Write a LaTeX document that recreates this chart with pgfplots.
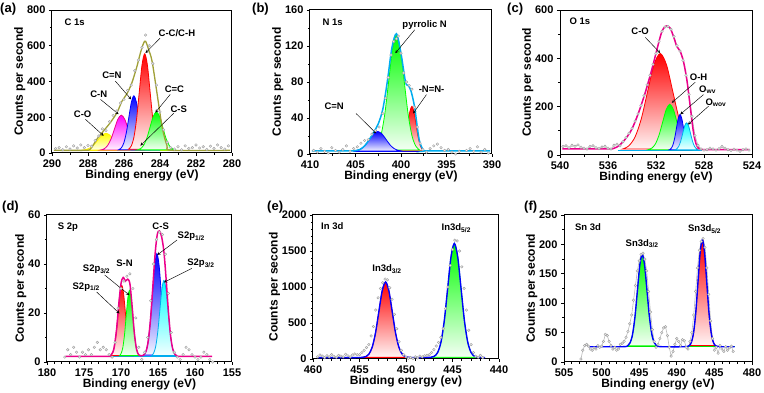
\documentclass[border=0pt]{standalone}
\usepackage{pgfplots}
\pgfplotsset{compat=1.18}
\usepackage{fontspec}
\setmainfont{Liberation Sans}
\definecolor{olivel}{RGB}{160,160,55}
\definecolor{bgreen}{RGB}{0,230,0}
\tikzset{
  ann/.style={font=\fontsize{9.5}{10}\selectfont\bfseries},
  arr/.style={-stealth, line width=0.45pt},
}
\pgfplotsset{
  xps/.style={scale only axis, x dir=reverse, tick align=outside, tick pos=left,
    axis line style={line width=1pt}, major tick length=3pt, minor tick length=1.8pt,
    every tick/.style={black, line width=0.8pt},
    ticklabel style={font=\fontsize{11}{12}\selectfont\bfseries},
    /pgf/number format/assume math mode=true, /pgf/number format/1000 sep={},
    xlabel={Binding energy (eV)}, ylabel={Counts per second},
    label style={font=\fontsize{12}{13}\selectfont\bfseries},
    xlabel style={yshift=4pt}, ylabel style={yshift=-5pt},
    anchor=south west},
  sc/.style={only marks, mark=*, mark size=1.3pt, mark options={fill=gray!15, draw=gray!75, line width=0.4pt}},
  scl/.style={gray!55, line width=0.6pt, mark=*, mark size=1.3pt, mark options={fill=gray!15, draw=gray!75, line width=0.4pt}},
  gf/.style={smooth, draw=#1, line width=0.8pt, top color=#1, bottom color=#1!4},
}
\begin{document}
\begin{tikzpicture}
\path[use as bounding box] (0pt,0pt) rectangle (764pt,393pt);
% ---------------- (a) ----------------
\begin{axis}[xps, at={(52pt,240pt)}, width=180pt, height=143pt,
  xmin=280, xmax=290, ymin=0, ymax=800, xtick={280,282,...,290}, ytick={0,200,...,800},
  minor x tick num=1, minor y tick num=1]
\addplot[sc] coordinates {(289.8,25)(289.6,30)(289.4,18)(289.2,35)(289.0,22)(288.8,40)(288.6,28)(288.4,45)(288.2,30)(288.0,42)(287.8,38)(287.6,70)(287.4,95)(287.2,135)(287.0,125)(286.8,175)(286.6,210)(286.4,235)(286.2,280)(286.0,300)(285.8,350)(285.6,380)(285.4,460)(285.2,520)(285.0,590)(284.8,660)(284.6,600)(284.4,500)(284.2,380)(284.0,230)(283.8,130)(283.6,60)(283.4,30)(283.2,22)(283.0,35)(282.8,18)(282.6,40)(282.4,25)(282.2,30)(282.0,45)(281.8,28)(281.6,35)(281.4,20)(281.2,38)(281.0,25)(280.8,45)(280.6,30)(280.4,22)(280.2,40)};
\addplot[yellow!95!black, line width=1pt] coordinates {(288.4,15)(283.2,15)};
\addplot[gf=cyan] coordinates {(286.4,15.8)(286.2,18.1)(286.0,24.5)(285.8,37.7)(285.6,57.5)(285.4,76.8)(285.2,85)(285.0,76.8)(284.8,57.5)(284.6,37.7)(284.4,24.5)(284.2,18.1)(284.0,15.8)} -- cycle;
\addplot[gf=yellow] coordinates {(288.35,16.1)(288.125,19.2)(287.9,27.9)(287.675,45.8)(287.45,72.6)(287.225,98.8)(287.0,110)(286.775,98.8)(286.55,72.6)(286.325,45.8)(286.1,27.9)(285.875,19.2)(285.65,16.1)} -- cycle;
\addplot[gf=magenta] coordinates {(287.29,17.2)(287.1,23.6)(286.91,41.7)(286.72,79)(286.53,134.5)(286.34,188.9)(286.15,212)(285.96,188.9)(285.77,134.5)(285.58,79)(285.39,41.7)(285.2,23.6)(285.01,17.2)} -- cycle;
\addplot[gf=blue] coordinates {(286.29,18.4)(286.15,28.4)(286.01,56.3)(285.87,114)(285.73,200)(285.59,284.2)(285.45,320)(285.31,284.2)(285.17,200)(285.03,114)(284.89,56.3)(284.75,28.4)(284.61,18.4)} -- cycle;
\addplot[gf=red] coordinates {(285.75,21)(285.6,38.7)(285.45,88.1)(285.3,190.3)(285.15,342.5)(285.0,491.6)(284.85,555)(284.7,491.6)(284.55,342.5)(284.4,190.3)(284.25,88.1)(284.1,38.7)(283.95,21)} -- cycle;
\addplot[gf=green] coordinates {(285.25,17.4)(285.075,24.4)(284.9,44.1)(284.725,84.8)(284.55,145.4)(284.375,204.7)(284.2,230)(284.025,204.7)(283.85,145.4)(283.675,84.8)(283.5,44.1)(283.325,24.4)(283.15,17.4)} -- cycle;
\addplot[olivel, line width=1.3pt, smooth] coordinates {(289.9,15)(288.2,15)(287.87,22)(287.5,78)(287.13,124)(286.76,170)(286.39,226)(286.11,290)(285.83,333)(285.56,393)(285.28,485)(285.09,559)(284.91,615)(284.8,625)(284.63,578)(284.44,513)(284.17,337)(283.89,152)(283.61,41)(283.33,15)(280.1,15)};
\node[ann, anchor=west] at (axis cs:289.5,730) {C 1s};
\node[ann] at (axis cs:283.06,670) {C-C/C-H};
\draw[arr] (axis cs:284.0,642) -- (axis cs:284.81,559);
\node[ann] at (axis cs:286.67,433) {C=N};
\draw[arr] (axis cs:286.48,402) -- (axis cs:285.6,300);
\node[ann] at (axis cs:287.4,331) {C-N};
\draw[arr] (axis cs:287.31,300) -- (axis cs:286.3,217);
\node[ann] at (axis cs:288.3,217) {C-O};
\draw[arr] (axis cs:288.15,189) -- (axis cs:287.13,96);
\node[ann] at (axis cs:283.2,356) {C=C};
\draw[arr] (axis cs:283.43,328) -- (axis cs:284.26,226);
\node[ann] at (axis cs:282.96,244) {C-S};
\draw[arr] (axis cs:283.24,222) -- (axis cs:285.09,41);
\end{axis}
% ---------------- (b) ----------------
\begin{axis}[xps, at={(310pt,239pt)}, width=182pt, height=144pt,
  xmin=390, xmax=410, ymin=0, ymax=160, xtick={390,395,...,410}, ytick={0,40,...,160},
  minor x tick num=1, minor y tick num=1]
\addplot[sc] coordinates {(409.6,4)(409.2,2)(408.8,6)(408.4,3)(408.0,1)(407.6,7)(407.2,4)(406.8,2)(406.4,5)(406.0,9)(405.6,3)(405.2,6)(404.8,8)(404.4,12)(404.0,15)(403.6,16)(403.2,22)(402.8,26)(402.4,30)(402.0,45)(401.7,62)(401.4,85)(401.1,110)(400.8,125)(400.5,128)(400.3,131)(400.0,112)(399.7,90)(399.4,80)(399.1,76)(398.8,72)(398.5,52)(398.2,30)(397.9,12)(397.6,5)(397.2,2)(396.8,6)(396.4,9)(396.0,11)(395.6,7)(395.2,4)(394.8,5)(394.4,2)(394.0,0)(393.6,3)(393.2,-1)(392.8,4)(392.4,6)(392.0,3)(391.6,8)(391.2,2)(390.8,5)(390.4,1)};
\addplot[blue, line width=1.2pt] coordinates {(405.2,3)(397.5,3)};
\addplot[gf=red] coordinates {(400.15,3.6)(399.925,5.2)(399.7,9.8)(399.475,19.2)(399.25,33.3)(399.025,47.1)(398.8,53)(398.575,47.1)(398.35,33.3)(398.125,19.2)(397.9,9.8)(397.675,5.2)(397.45,3.6)} -- cycle;
\addplot[gf=green] coordinates {(403.05,4.4)(402.625,8.7)(402.2,20.5)(401.775,44.9)(401.35,81.2)(400.925,116.8)(400.5,132)(400.075,116.8)(399.65,81.2)(399.225,44.9)(398.8,20.5)(398.375,8.7)(397.95,4.4)} -- cycle;
\addplot[gf=blue] coordinates {(405.25,3.2)(404.8,4)(404.35,6)(403.9,10.1)(403.45,16.3)(403.0,22.4)(402.55,25)(402.1,22.4)(401.65,16.3)(401.2,10.1)(400.75,6)(400.3,4)(399.85,3.2)} -- cycle;
\addplot[cyan, line width=1.5pt, smooth] coordinates {(409.8,3.5)(405.5,3.5)(405,3.8)(404.5,5.1)(404,9)(403.5,15.8)(403,24.1)(402.5,33.5)(402,49.7)(401.5,80.7)(401,117.9)(400.5,133.6)(400,111.7)(399.5,80)(399.2,76)(398.9,70)(398.5,51.8)(398,15.8)(397.5,3.9)(397,3.5)(390.2,3.5)};
\node[ann, anchor=west] at (axis cs:409,146) {N 1s};
\node[ann] at (axis cs:397.4,143) {pyrrolic N};
\draw[arr] (axis cs:398.49,138) -- (axis cs:400.63,112);
\node[ann] at (axis cs:396.64,72) {-N=N-};
\draw[arr] (axis cs:397.2,66) -- (axis cs:398.67,45);
\node[ann] at (axis cs:407.34,52.6) {C=N};
\draw[arr] (axis cs:404.94,45) -- (axis cs:402.73,23);
\end{axis}
% ---------------- (c) ----------------
\begin{axis}[xps, at={(560pt,238pt)}, width=192pt, height=145pt,
  xmin=524, xmax=540, ymin=0, ymax=600, xtick={524,528,...,540}, ytick={0,200,...,600},
  minor x tick num=1, minor y tick num=1]
\addplot[scl] coordinates {(539.75,35)(539.5,38)(539.25,30)(539.0,40)(538.75,36)(538.5,42)(538.25,32)(538.0,28)(537.75,25)(537.5,35)(537.25,38)(537.0,30)(536.75,27)(536.5,33)(536.25,36)(536.0,28)(535.75,25)(535.5,40)(535.25,45)(535.0,38)(534.75,55)(534.5,72)(534.25,90)(534.0,110)(533.75,140)(533.5,170)(533.25,205)(533.0,245)(532.75,290)(532.5,330)(532.25,375)(532.0,420)(531.75,470)(531.5,512)(531.25,530)(531.0,532)(530.75,520)(530.5,490)(530.25,452)(530.0,430)(529.75,392)(529.5,330)(529.25,250)(529.0,160)(528.75,80)(528.5,40)(528.25,25)(528.0,20)(527.75,22)(527.5,28)(527.25,25)(527.0,20)(526.75,26)(526.5,35)(526.25,28)(526.0,22)(525.75,18)(525.5,24)(525.25,20)(525.0,15)(524.75,22)(524.5,25)(524.25,20)};
\addplot[cyan, line width=1.2pt] coordinates {(535.2,20)(528.2,20)};
\addplot[gf=red] coordinates {(534.8,24.4)(534.275,37.6)(533.75,74.1)(533.225,149.9)(532.7,262.6)(532.175,373)(531.65,420)(531.125,373)(530.6,262.6)(530.075,149.9)(529.55,74.1)(529.025,37.6)(528.5,24.4)} -- cycle;
\addplot[gf=green] coordinates {(532.65,22.1)(532.35,28.3)(532.05,45.7)(531.75,81.7)(531.45,135.2)(531.15,187.7)(530.85,210)(530.55,187.7)(530.25,135.2)(529.95,81.7)(529.65,45.7)(529.35,28.3)(529.05,22.1)} -- cycle;
\addplot[gf=blue] coordinates {(530.9,21.6)(530.75,26.5)(530.6,40)(530.45,68.1)(530.3,109.8)(530.15,150.6)(530.0,168)(529.85,150.6)(529.7,109.8)(529.55,68.1)(529.4,40)(529.25,26.5)(529.1,21.6)} -- cycle;
\addplot[gf=cyan] coordinates {(530.44,21.3)(530.275,25)(530.11,35.3)(529.945,56.7)(529.78,88.5)(529.615,119.7)(529.45,133)(529.285,119.7)(529.12,88.5)(528.955,56.7)(528.79,35.3)(528.625,25)(528.46,21.3)} -- cycle;
\addplot[magenta, line width=1.5pt, smooth] coordinates {(539.8,25)(536,25)(535.5,28)(535.13,37)(534.57,65)(534.02,106)(533.46,174)(532.9,257)(532.35,353)(531.93,435)(531.51,511)(531.15,534)(530.82,525)(530.54,490)(530.26,449)(529.98,429)(529.71,387)(529.43,312)(529.15,202)(528.87,92)(528.59,37)(528.17,23)(527,22)(524.2,22)};
\node[ann, anchor=west] at (axis cs:539.5,555) {O 1s};
\node[ann] at (axis cs:533.32,511) {C-O};
\draw[arr] (axis cs:532.9,487) -- (axis cs:531.65,422);
\node[ann] at (axis cs:528.45,323) {O-H};
\draw[arr] (axis cs:528.73,301) -- (axis cs:530.68,216);
\node[ann] at (axis cs:527.7,270) {O\textsubscript{wv}};
\draw[arr] (axis cs:528.04,250) -- (axis cs:529.98,168);
\node[ann] at (axis cs:527.0,218) {O\textsubscript{wov}};
\draw[arr] (axis cs:527.62,202) -- (axis cs:529.34,126);
\end{axis}
% ---------------- (d) ----------------
\begin{axis}[xps, at={(47pt,31pt)}, width=185pt, height=147pt,
  xmin=155, xmax=180, ymin=0, ymax=60, xtick={155,160,...,180}, ytick={0,20,40,60},
  minor x tick num=4, minor y tick num=1]
\addplot[sc] coordinates {(177.6,2)(177.2,5)(176.8,3)(176.4,6)(176.0,4)(175.6,2)(175.2,4)(174.8,3)(174.4,5)(174.0,3)(173.6,6)(173.2,8)(172.8,5)(172.4,6)(172.0,5)(171.6,3)(171.2,2)(170.8,8)(170.4,22)(170.0,30)(169.6,33)(169.2,35)(168.8,36)(168.4,30)(168.0,18)(167.6,6)(167.2,1)(166.8,4)(166.4,10)(166.0,25)(165.6,40)(165.2,50)(164.8,53)(164.4,52)(164.0,44)(163.6,28)(163.2,12)(162.8,4)(162.4,2)(162.0,1)(161.6,3)(161.2,6)(160.8,5)(160.4,3)(160.0,2)(159.6,1)(159.2,2)(158.8,4)(158.4,3)(158.0,1)(157.6,0)};
\addplot[cyan, line width=1.2pt] coordinates {(171.3,2.3)(161.9,2.3)};
\addplot[gf=red] coordinates {(171.4,2.6)(171.15,3.6)(170.9,6.2)(170.65,11.7)(170.4,19.9)(170.15,27.9)(169.9,31.3)(169.65,27.9)(169.4,19.9)(169.15,11.7)(168.9,6.2)(168.65,3.6)(168.4,2.6)} -- cycle;
\addplot[gf=green] coordinates {(170.2,2.6)(169.975,3.5)(169.75,5.95)(169.525,11.1)(169.3,18.7)(169.075,26.1)(168.85,29.3)(168.625,26.1)(168.4,18.7)(168.175,11.1)(167.95,5.95)(167.725,3.5)(167.5,2.6)} -- cycle;
\addplot[gf=blue] coordinates {(166.95,2.8)(166.65,4.1)(166.35,8.0)(166.05,15.9)(165.75,27.8)(165.45,39.4)(165.15,44.3)(164.85,39.4)(164.55,27.8)(164.25,15.9)(163.95,8.0)(163.65,4.1)(163.35,2.8)} -- cycle;
\addplot[gf=cyan] coordinates {(165.85,2.6)(165.575,3.7)(165.3,6.5)(165.025,12.4)(164.75,21.1)(164.475,29.7)(164.2,33.3)(163.925,29.7)(163.65,21.1)(163.375,12.4)(163.1,6.5)(162.825,3.7)(162.55,2.6)} -- cycle;
\addplot[magenta, line width=1.5pt, smooth] coordinates {(177.5,2.3)(172,2.3)(171.5,2.5)(171,4.9)(170.6,13.2)(170.3,23.5)(170,32)(169.7,34.5)(169.4,33)(169.1,33.8)(168.8,32)(168.5,22.8)(168.2,11.9)(167.9,5.2)(167.6,2.9)(167.3,2.5)(167,2.7)(166.6,4.5)(166.3,9)(166,17.9)(165.7,30.6)(165.4,43.7)(165.1,52)(164.8,53.5)(164.5,51)(164.2,45)(163.9,33.8)(163.6,20.9)(163.3,10.7)(163,5.2)(162.7,3.1)(162.4,2.4)(162,2.3)(157.7,2.3)};
\node[ann, anchor=west] at (axis cs:179,55) {S 2p};
\node[ann] at (axis cs:164.64,55.3) {C-S};
\node[ann] at (axis cs:160.5,51.2) {S2p\textsubscript{1/2}};
\draw[arr] (axis cs:162.42,49.8) -- (axis cs:165.09,43.7);
\node[ann] at (axis cs:159.2,40.2) {S2p\textsubscript{3/2}};
\draw[arr] (axis cs:160.42,38.2) -- (axis cs:164.2,32.5);
\node[ann] at (axis cs:169.53,40.2) {S-N};
\node[ann] at (axis cs:173.3,37.9) {S2p\textsubscript{3/2}};
\draw[arr] (axis cs:172.2,35.5) -- (axis cs:168.87,27.3);
\node[ann] at (axis cs:174.7,30.7) {S2p\textsubscript{1/2}};
\draw[arr] (axis cs:173.3,28.6) -- (axis cs:170.2,19.8);
\end{axis}
% ---------------- (e) ----------------
\begin{axis}[xps, at={(313pt,34pt)}, width=186pt, height=144pt, xlabel={Binding energy (ev)},
  xmin=440, xmax=460, ymin=0, ymax=2000, xtick={440,445,...,460}, ytick={0,500,...,2000},
  minor x tick num=4, minor y tick num=4]
\addplot[sc] coordinates {(459.5,30)(459.25,55)(459.0,40)(458.75,20)(458.5,45)(458.25,30)(458.0,60)(457.75,35)(457.5,25)(457.25,50)(457.0,40)(456.75,30)(456.5,65)(456.25,45)(456.0,30)(455.75,55)(455.5,70)(455.25,60)(455.0,60)(454.75,90)(454.5,120)(454.25,160)(454.0,200)(453.75,320)(453.5,450)(453.25,680)(453.0,850)(452.75,980)(452.5,1060)(452.25,1110)(452.0,1100)(451.75,990)(451.5,830)(451.25,620)(451.0,420)(450.75,240)(450.5,120)(450.25,60)(450.0,30)(449.75,10)(449.5,20)(449.25,5)(449.0,30)(448.75,15)(448.5,40)(448.25,30)(448.0,45)(447.75,50)(447.5,60)(447.25,90)(447.0,130)(446.75,180)(446.5,230)(446.25,300)(446.0,420)(445.75,700)(445.5,1000)(445.25,1300)(445.0,1520)(444.75,1650)(444.5,1640)(444.25,1500)(444.0,1280)(443.75,980)(443.5,680)(443.25,400)(443.0,200)(442.75,90)(442.5,40)(442.25,25)(442.0,50)(441.75,20)};
\addplot[bgreen, line width=1.5pt] coordinates {(455.2,20)(441.5,20)};
\addplot[gf=red] coordinates {(454.72,22.3)(454.36,31.7)(454.0,66.1)(453.64,162)(453.28,360.9)(452.92,656.8)(452.56,946.6)(452.2,1070)(451.84,946.6)(451.48,656.8)(451.12,360.9)(450.76,162)(450.4,66.1)(450.04,31.7)(449.68,22.3)} -- cycle;
\addplot[gf=green] coordinates {(447.32,23.5)(446.96,37.6)(446.6,89.6)(446.24,234.5)(445.88,534.6)(445.52,981.3)(445.16,1418.8)(444.8,1605)(444.44,1418.8)(444.08,981.3)(443.72,534.6)(443.36,234.5)(443.0,89.6)(442.64,37.6)(442.28,23.5)} -- cycle;
\addplot[blue, line width=1.4pt, smooth] coordinates {(459.5,20)(455.5,20)(454.72,22.3)(454.36,31.7)(454.0,66.1)(453.64,162)(453.28,360.9)(452.92,656.8)(452.56,946.6)(452.2,1070)(451.84,946.6)(451.48,656.8)(451.12,360.9)(450.76,162)(450.4,66.1)(450.04,31.7)(449.68,22.3)(448.5,20)(447.32,23.5)(446.96,37.6)(446.6,89.6)(446.24,234.5)(445.88,534.6)(445.52,981.3)(445.16,1418.8)(444.8,1605)(444.44,1418.8)(444.08,981.3)(443.72,534.6)(443.36,234.5)(443.0,89.6)(442.64,37.6)(442.28,23.5)(441.5,20)};
\node[ann, anchor=west] at (axis cs:459.5,1850) {In 3d};
\node[ann] at (axis cs:452.04,1247) {In3d\textsubscript{3/2}};
\node[ann] at (axis cs:444.59,1814) {In3d\textsubscript{5/2}};
\end{axis}
% ---------------- (f) ----------------
\begin{axis}[xps, at={(564pt,31pt)}, width=188pt, height=147pt,
  xmin=480, xmax=505, ymin=0, ymax=250, xtick={480,485,...,505}, ytick={0,50,...,250},
  minor x tick num=4, minor y tick num=1]
\addplot[scl] coordinates {(502.75,5)(502.5,20)(502.25,28)(502.0,30)(501.75,27)(501.5,22)(501.25,20)(501.0,24)(500.75,22)(500.5,28)(500.25,25)(500.0,27)(499.75,35)(499.5,47)(499.25,45)(499.0,35)(498.75,28)(498.5,22)(498.25,25)(498.0,20)(497.75,22)(497.5,30)(497.25,32)(497.0,35)(496.75,42)(496.5,52)(496.25,65)(496.0,80)(495.75,105)(495.5,130)(495.25,155)(495.0,172)(494.75,183)(494.5,185)(494.25,175)(494.0,155)(493.75,120)(493.5,85)(493.25,55)(493.0,35)(492.75,25)(492.5,30)(492.25,40)(492.0,50)(491.75,58)(491.5,60)(491.25,45)(491.0,25)(490.75,10)(490.5,18)(490.25,30)(490.0,40)(489.75,35)(489.5,28)(489.25,38)(489.0,36)(488.75,25)(488.5,22)(488.25,35)(488.0,50)(487.75,80)(487.5,120)(487.25,160)(487.0,190)(486.75,205)(486.5,210)(486.25,195)(486.0,160)(485.75,115)(485.5,70)(485.25,40)(485.0,20)(484.75,25)(484.5,15)(484.25,28)(484.0,22)(483.75,18)(483.5,26)(483.25,20)(483.0,24)(482.75,27)(482.5,18)};
\addplot[bgreen, line width=1.3pt] coordinates {(497,26)(482.3,26)};
\addplot[gf=green] coordinates {(496.52,27.7)(496.2,32.9)(495.88,47.2)(495.56,77)(495.24,121.2)(494.92,164.6)(494.6,183)(494.28,164.6)(493.96,121.2)(493.64,77)(493.32,47.2)(493.0,32.9)(492.68,27.7)} -- cycle;
\addplot[gf=red] coordinates {(488.34,28)(488.05,34)(487.76,50.6)(487.47,85.1)(487.18,136.4)(486.89,186.6)(486.6,208)(486.31,186.6)(486.02,136.4)(485.73,85.1)(485.44,50.6)(485.15,34)(484.86,28)} -- cycle;
\addplot[blue, line width=1.4pt, smooth] coordinates {(501.6,26)(497.2,26)(496.52,27.7)(496.2,32.9)(495.88,47.2)(495.56,77)(495.24,121.2)(494.92,164.6)(494.6,183)(494.28,164.6)(493.96,121.2)(493.64,77)(493.32,47.2)(493.0,32.9)(492.68,27.7)(492,26)(489,26)(488.34,28)(488.05,34)(487.76,50.6)(487.47,85.1)(487.18,136.4)(486.89,186.6)(486.6,208)(486.31,186.6)(486.02,136.4)(485.73,85.1)(485.44,50.6)(485.15,34)(484.86,28)(484.2,26)(482.3,26)};
\node[ann, anchor=west] at (axis cs:504,230) {Sn 3d};
\node[ann, anchor=south] at (axis cs:494.6,188) {Sn3d\textsubscript{3/2}};
\node[ann, anchor=south] at (axis cs:486.3,212) {Sn3d\textsubscript{5/2}};
\end{axis}
% panel letters
\node[anchor=north west, font=\fontsize{13}{14}\selectfont\bfseries, inner sep=0pt] at (0pt,390pt) {(a)};
\node[anchor=north west, font=\fontsize{13}{14}\selectfont\bfseries, inner sep=0pt] at (252pt,390pt) {(b)};
\node[anchor=north west, font=\fontsize{13}{14}\selectfont\bfseries, inner sep=0pt] at (507pt,390pt) {(c)};
\node[anchor=north west, font=\fontsize{13}{14}\selectfont\bfseries, inner sep=0pt] at (2pt,192pt) {(d)};
\node[anchor=north west, font=\fontsize{13}{14}\selectfont\bfseries, inner sep=0pt] at (267pt,192pt) {(e)};
\node[anchor=north west, font=\fontsize{13}{14}\selectfont\bfseries, inner sep=0pt] at (524pt,192pt) {(f)};
\end{tikzpicture}
\end{document}
